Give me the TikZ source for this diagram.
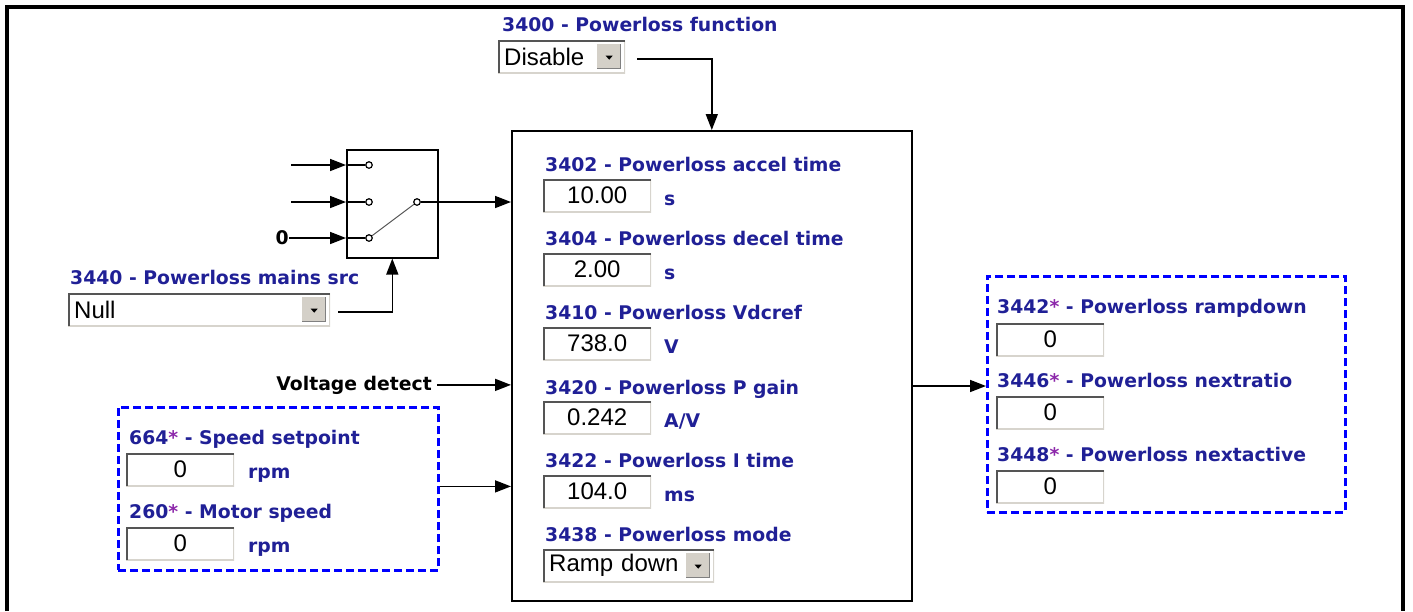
\documentclass[tikz,border=0pt]{standalone}
\usepackage{fontspec}
\newfontfamily\lblfont{DejaVu Sans}
\newfontfamily\valfont{Liberation Sans}
\usetikzlibrary{arrows.meta,calc}
\definecolor{navy}{RGB}{32,32,150}
\definecolor{ast}{RGB}{140,40,170}
\definecolor{dashblue}{RGB}{0,0,255}
\definecolor{btn}{RGB}{212,208,200}
\definecolor{sunkd}{RGB}{85,85,85}
\definecolor{sunkl}{RGB}{215,212,205}
\newcommand{\lblsize}{\fontsize{18.8}{21}\selectfont}
\newcommand{\valsize}{\fontsize{24}{26}\selectfont}
\newcommand{\st}{\textcolor{ast}{*}}
\tikzset{
  lbl/.style={anchor=base west, inner sep=0, text=navy, font=\lblfont\bfseries\lblsize},
  blk/.style={inner sep=0, text=black, font=\lblfont\bfseries\lblsize},
  sunken/.style={fill=white, draw=none, path picture={
      \draw[sunkl, line width=3pt] (path picture bounding box.north east) -- (path picture bounding box.south east) -- (path picture bounding box.south west);
      \draw[sunkd, line width=4pt] (path picture bounding box.south west) -- (path picture bounding box.north west) -- (path picture bounding box.north east);}},
  valbox/.style={sunken, anchor=north west, minimum width=108, minimum height=33, inner sep=0, text=black, font=\valfont\valsize},
  ddbox/.style={anchor=north west, fill=white, draw=none, inner xsep=6pt, inner ysep=0pt, minimum height=33, text=black, font=\valfont\valsize, align=left,
    path picture={
      \draw[sunkl, line width=3pt] (path picture bounding box.north east) -- (path picture bounding box.south east) -- (path picture bounding box.south west);
      \draw[sunkd, line width=4pt] (path picture bounding box.south west) -- (path picture bounding box.north west) -- (path picture bounding box.north east);
      \fill[btn] ([xshift=-28pt,yshift=4pt]path picture bounding box.south east) rectangle ([xshift=-4pt,yshift=-4pt]path picture bounding box.north east);
      \draw[gray, line width=1pt] ([xshift=-28pt,yshift=4.5pt]path picture bounding box.south east) -- ([xshift=-4.5pt,yshift=4.5pt]path picture bounding box.south east) -- ([xshift=-4.5pt,yshift=-4pt]path picture bounding box.north east);
      \fill[black] ([xshift=-19.5pt,yshift=1pt]path picture bounding box.east) -- ++(7pt,0pt) -- ++(-3.5pt,-4pt) -- cycle;}},
  arr/.style={-{Triangle[length=16pt,width=12pt]}, line width=1.6pt, black},
  dashbox/.style={draw=dashblue, line width=2.8pt, dash pattern=on 8pt off 4pt, anchor=north west, inner sep=0},
  circ/.style={circle, draw, line width=1.2pt, fill=white, minimum size=6.5, inner sep=0},
  frame/.style={draw, line width=1.6pt, anchor=north west, inner sep=0}
}
\begin{document}
\begin{tikzpicture}[x=1pt,y=-1pt]
\useasboundingbox (0,0) rectangle (1413,611);
% outer frame
\draw[line width=3.5pt] (7,611) -- (7,7) -- (1403,7) -- (1403,611);

% main block
\node[frame, minimum width=400, minimum height=470] (main) at (511,130) {};

% top: 3400
\node[lbl] (l3400) at (502,31) {3400 - Powerloss function};
\node[ddbox, text width=115] (dis) at (498,40) {Disable};
\coordinate (d1) at (637,59);
\draw[arr] (d1) -| (main.north);

% switch
\node[frame, minimum width=91, minimum height=108] (sw) at (346,149) {};
\node[circ] (c1) at (369,165) {};
\node[circ] (c2) at (369,202) {};
\node[circ] (c3) at (369,238) {};
\node[circ] (co) at (417,202) {};
\draw[gray!70!black, line width=1pt] (c3) -- (co);
\coordinate (i1) at (291,165);
\coordinate (i2) at (291,202);
\node[blk, anchor=east] (zero) at (289,238) {0};
\draw[arr] (i1) -- (i1 -| sw.west);
\draw[line width=1.6pt] (i1 -| sw.west) -- (c1);
\draw[arr] (i2) -- (i2 -| sw.west);
\draw[line width=1.6pt] (i2 -| sw.west) -- (c2);
\draw[arr] (zero.east) -- (zero.east -| sw.west);
\draw[line width=1.6pt] (zero.east -| sw.west) -- (c3);
\draw[arr] (co) -- (co -| main.west);

% 3440 selector
\node[lbl] (l3440) at (70,284) {3440 - Powerloss mains src};
\node[ddbox, text width=250] (null) at (68,293) {Null};
\coordinate (n1) at (338,312);
\draw[arr] (n1) -| (sw.south);

% voltage detect
\node[blk, anchor=base east] (vd) at (432,390) {Voltage detect};
\draw[arr, shorten <=5pt] (vd.east) -- (vd.east -| main.west);

% speed group
\node[dashbox, minimum width=320, minimum height=163] (spd) at (117,406) {};
\node[lbl] (l664) at (129,444) {664\st{} - Speed setpoint};
\node[valbox] (v664) at (126,453) {0};
\node[lbl] (u664) at (248,478) {rpm};
\node[lbl] (l260) at (129,518) {260\st{} - Motor speed};
\node[valbox] (v260) at (126,527) {0};
\node[lbl] (u260) at (248,552) {rpm};
\draw[arr] ([yshift=2.5pt]spd.east) -- ([yshift=2.5pt]spd.east -| main.west);

% main block contents
\node[lbl] (l3402) at (545,171) {3402 - Powerloss accel time};
\node[valbox] (v3402) at (543,179) {10.00};
\node[lbl] (u3402) at (664,205) {s};
\node[lbl] (l3404) at (545,245) {3404 - Powerloss decel time};
\node[valbox] (v3404) at (543,253) {2.00};
\node[lbl] (u3404) at (664,279) {s};
\node[lbl] (l3410) at (545,319) {3410 - Powerloss Vdcref};
\node[valbox] (v3410) at (543,327) {738.0};
\node[lbl] (u3410) at (664,353) {V};
\node[lbl] (l3420) at (545,394) {3420 - Powerloss P gain};
\node[valbox] (v3420) at (543,401) {0.242};
\node[lbl] (u3420) at (664,427) {A/V};
\node[lbl] (l3422) at (545,467) {3422 - Powerloss I time};
\node[valbox] (v3422) at (543,475) {104.0};
\node[lbl] (u3422) at (664,501) {ms};
\node[lbl] (l3438) at (545,541) {3438 - Powerloss mode};
\node[ddbox, text width=159] (mode) at (543,549) {Ramp down};

% outputs
\node[dashbox, minimum width=358, minimum height=236] (outg) at (986,275) {};
\node[lbl] (l3442) at (997,313) {3442\st{} - Powerloss rampdown};
\node[valbox] (v3442) at (996,323) {0};
\node[lbl] (l3446) at (997,387) {3446\st{} - Powerloss nextratio};
\node[valbox] (v3446) at (996,396) {0};
\node[lbl] (l3448) at (997,461) {3448\st{} - Powerloss nextactive};
\node[valbox] (v3448) at (996,470) {0};
\coordinate (o1) at (911,386);
\draw[arr] (o1) -- (o1 -| outg.west);
\end{tikzpicture}
\end{document}
